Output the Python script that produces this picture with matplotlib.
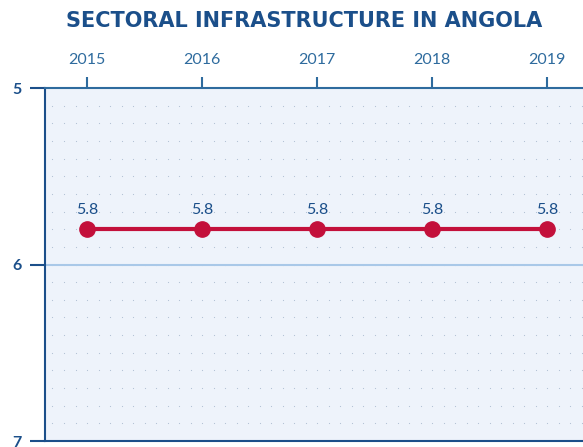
import numpy as np
import matplotlib.pyplot as plt

years = [2015, 2016, 2017, 2018, 2019]
values = [5.8, 5.8, 5.8, 5.8, 5.8]
labels = ["5.8", "5.8", "5.8", "5.8", "5.8"]
y_ticks = [5, 6, 7]

dark_blue = "#1b4f8a"
tick_blue = "#2e6b9e"
red = "#c3103b"

plt.rcParams['font.family'] = ['Lato', 'DejaVu Sans']

fig = plt.figure(figsize=(5.83, 4.47), dpi=100)
ax = fig.add_axes([0.0772, 0.0134, 0.9228, 0.7897])
ax.set_facecolor("#eef3fb")

ax.set_xlim(2014.635, 2019.31)
ax.set_ylim(7, 5)

# dotted background grid
gx, gy = np.meshgrid(np.arange(2014.7, 2019.35, 0.1), np.arange(5.1, 7.0, 0.1))
ax.scatter(gx.ravel(), gy.ravel(), s=0.7, color="#b0bfd3", zorder=1, linewidths=0)
ax.axhline(6, color="#a9c8e8", lw=1.5, zorder=2)

ax.plot(years, values, color=red, lw=3, marker="o", markersize=11, zorder=3)
for x, v, t in zip(years, values, labels):
    ax.annotate(t, (x, v), xytext=(0, 9), textcoords="offset points",
                ha="center", va="bottom", fontsize=11.5, color=dark_blue)

ax.xaxis.tick_top()
ax.set_xticks(years)
ax.set_xticklabels([str(y) for y in years], color=tick_blue, fontsize=11.5)
ax.set_yticks(y_ticks)
ax.set_yticklabels([str(y) for y in y_ticks], color=dark_blue, fontsize=11.5, fontweight="bold")
ax.tick_params(axis="x", direction="out", length=8, width=1.5, color=tick_blue, pad=7)
ax.tick_params(axis="y", direction="out", length=11, width=1.5, color=dark_blue, pad=6)

for s in ["left", "top", "bottom"]:
    ax.spines[s].set_color(dark_blue)
    ax.spines[s].set_linewidth(1.5)
ax.spines["top"].set_color(tick_blue)
ax.spines["right"].set_visible(False)

fig.text(0.521, 0.953, "SECTORAL INFRASTRUCTURE IN ANGOLA", ha="center", va="center",
         fontsize=15, fontweight="bold", color=dark_blue,
         family=["DejaVu Sans"])

fig.savefig("out.png", dpi=100)
